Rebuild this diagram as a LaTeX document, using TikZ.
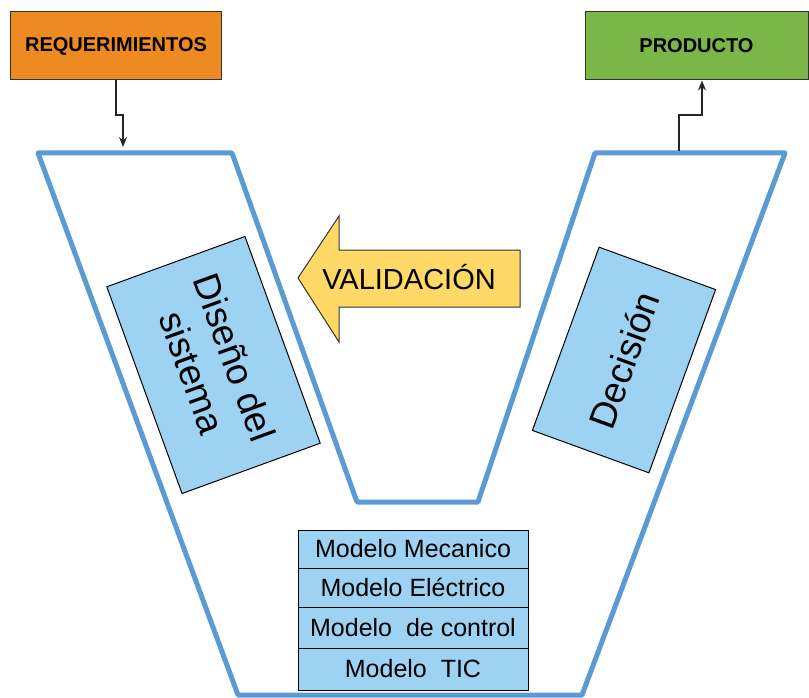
\documentclass[tikz,border=0pt]{standalone}
\usepackage{fontspec}
\setmainfont{Liberation Sans}
\usetikzlibrary{arrows.meta}
\definecolor{vblue}{RGB}{91,155,213}
\definecolor{boxblue}{RGB}{157,210,242}
\definecolor{reqorange}{RGB}{238,138,34}
\definecolor{prodgreen}{RGB}{122,182,72}
\definecolor{valyellow}{RGB}{255,217,102}
\tikzset{
  topbox/.style={draw=black!80, line width=1pt, minimum width=211pt, minimum height=68pt, inner sep=0pt, font=\fontsize{20}{23}\selectfont\bfseries},
  bluebox/.style={draw=black, line width=1pt, fill=boxblue, inner sep=0pt, align=center},
  rowbox/.style={bluebox, minimum width=230pt, font=\fontsize{25}{28}\selectfont},
  conn/.style={draw=black!85, line width=1.3pt, -{Stealth[length=10pt,width=8pt]}},
  vline/.style={draw=vblue, line width=5pt, line join=round}
}
\begin{document}
\begin{tikzpicture}[x=1pt,y=-1pt]
\useasboundingbox (0,0) rectangle (809,698);
% V shape
\coordinate (vTL) at (38,153);
\coordinate (vTLi) at (232,153);
\coordinate (vBLi) at (357,502);
\coordinate (vBRi) at (478,502);
\coordinate (vTRi) at (595,153);
\coordinate (vTR) at (785,153);
\coordinate (vBR) at (582,695);
\coordinate (vBL) at (238,695);
\draw[vline] (vTL) -- (vTLi) -- (vBLi) -- (vBRi) -- (vTRi) -- (vTR) -- (vBR) -- (vBL) -- cycle;
% top boxes
\node[topbox, fill=reqorange] (req) at (116,46) {REQUERIMIENTOS};
\node[topbox, fill=prodgreen, minimum width=223pt] (prod) at (696.5,46) {PRODUCTO};
\coordinate (reqend) at (123,147);
\coordinate (prodstart) at (679,151);
\draw[conn] (req.south -| 116,0) -- (116,115) -- (123,115) -- (reqend);
\draw[conn] (prodstart) -- (679,115) -- (702,115) -- (prod.south -| 702,0);
% validation arrow
\draw[draw=black!80, line width=1pt, fill=valyellow, line join=miter]
  (298,278) -- (339,216) -- (339,250) -- (520,250) -- (520,307) -- (339,307) -- (339,342) -- cycle;
\node[font=\fontsize{29}{32}\selectfont] (val) at (409,277) {VALIDACIÓN};
% rotated boxes
\node[bluebox, rotate=-70, minimum width=220pt, minimum height=147pt, font=\fontsize{37}{45}\selectfont] (dis) at (213.5,365) {Diseño del\\sistema};
\node[bluebox, rotate=70, minimum width=195pt, minimum height=124pt, font=\fontsize{37}{43}\selectfont] (dec) at (624,360) {Decisión};
% stacked models
\node[rowbox, minimum height=38pt] (m1) at (413,549) {Modelo Mecanico};
\node[rowbox, minimum height=39pt] (m2) at (413,587.5) {Modelo Eléctrico};
\node[rowbox, minimum height=41pt] (m3) at (413,627.5) {Modelo\ \ de control};
\node[rowbox, minimum height=42pt] (m4) at (413,669) {Modelo\ \ TIC};
\end{tikzpicture}
\end{document}
